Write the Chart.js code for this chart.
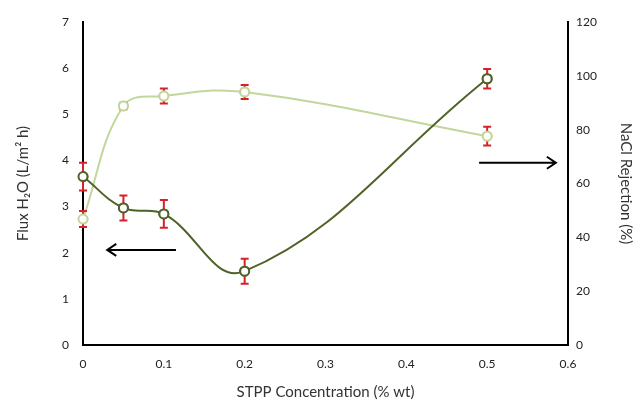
<!DOCTYPE html>
<html>
<head>
<meta charset="utf-8">
<script src="https://cdn.jsdelivr.net/npm/chart.js@4"></script>
<style>
  html, body { margin: 0; padding: 0; background: #fff; }
  #wrap { width: 639px; height: 401px; }
</style>
</head>
<body>
<div id="wrap"><canvas id="grafico"></canvas></div>
<script>
// datos
const concentracion = [0, 0.05, 0.1, 0.2, 0.5]
const flux = [3.65, 2.97, 2.84, 1.6, 5.77]
const fluxError = [0.3, 0.27, 0.3, 0.27, 0.21]
const rechazo = [46.8, 88.8, 92.5, 94, 77.6]
const rechazoError = [3, 1.2, 2.8, 2.6, 3.5]
const ticksX = [0, 0.1, 0.2, 0.3, 0.4, 0.5, 0.6]

// flechas: [x inicio, x fin, y] en unidades de datos (eje izquierdo)
const flechaIzq = [0.115, 0.03, 2.06]
const flechaDer = [0.49, 0.585, 3.95]

const verdeOscuro = '#4f6228'
const verdeClaro = '#c3d69b'
const rojo = '#d2232a'

const puntos = (xs, ys) => xs.map((x, i) => ({ x: x, y: ys[i] }))

const barrasError = {
    id: 'barrasError',
    afterDatasetsDraw(chart) {
        const ctx = chart.ctx
        const sx = chart.scales.x
        const series = [
            { ys: flux, err: fluxError, eje: chart.scales.y },
            { ys: rechazo, err: rechazoError, eje: chart.scales.y2 }
        ]
        ctx.save()
        ctx.strokeStyle = rojo
        ctx.lineWidth = 2
        series.forEach(s => {
            concentracion.forEach((c, i) => {
                const px = sx.getPixelForValue(c)
                const top = s.eje.getPixelForValue(s.ys[i] + s.err[i])
                const bot = s.eje.getPixelForValue(s.ys[i] - s.err[i])
                ctx.beginPath()
                ctx.moveTo(px, top); ctx.lineTo(px, bot)
                ctx.moveTo(px - 4, top); ctx.lineTo(px + 4, top)
                ctx.moveTo(px - 4, bot); ctx.lineTo(px + 4, bot)
                ctx.stroke()
            })
        })
        // volver a dibujar los marcadores encima
        chart.getSortedVisibleDatasetMetas().forEach(meta => {
            meta.data.forEach(p => p.draw(ctx, chart.chartArea))
        })
        // flechas
        ctx.strokeStyle = '#000'
        ctx.lineWidth = 2
        ;[flechaIzq, flechaDer].forEach(f => {
            const x1 = sx.getPixelForValue(f[0])
            const x2 = sx.getPixelForValue(f[1])
            const y = chart.scales.y.getPixelForValue(f[2])
            const d = x2 > x1 ? 1 : -1
            ctx.beginPath()
            ctx.moveTo(x1, y); ctx.lineTo(x2, y)
            ctx.moveTo(x2 - d * 9, y - 6); ctx.lineTo(x2, y); ctx.lineTo(x2 - d * 9, y + 6)
            ctx.stroke()
        })
        ctx.restore()
    }
}

const fuente = { family: 'Lato', size: 12 }

new Chart(document.getElementById('grafico'), {
    type: 'scatter',
    data: {
        datasets: [
            {
                label: 'Flux',
                data: puntos(concentracion, flux),
                yAxisID: 'y',
                showLine: true,
                tension: 0.4,
                borderColor: verdeOscuro,
                borderWidth: 2,
                pointRadius: 4.5,
                pointBorderWidth: 2,
                pointBackgroundColor: '#fff',
                pointBorderColor: verdeOscuro
            },
            {
                label: 'Rejection',
                data: puntos(concentracion, rechazo),
                yAxisID: 'y2',
                showLine: true,
                tension: 0.4,
                borderColor: verdeClaro,
                borderWidth: 2,
                pointRadius: 4.5,
                pointBorderWidth: 2,
                pointBackgroundColor: '#fff',
                pointBorderColor: verdeClaro
            }
        ]
    },
    options: {
        responsive: true,
        maintainAspectRatio: false,
        animation: false,
        layout: { padding: { top: 22 } },
        plugins: { legend: { display: false }, tooltip: { enabled: false } },
        scales: {
            x: {
                type: 'linear',
                min: 0, max: 0.6,
                afterBuildTicks: s => { s.ticks = ticksX.map(v => ({ value: v })) },
                afterFit: s => { s.height = 56 },
                grid: { display: false, drawTicks: false },
                border: { color: '#000', width: 2 },
                ticks: { color: '#222', font: fuente, padding: 12 },
                title: { display: true, text: 'STPP Concentration (% wt)', color: '#333', font: { family: 'Lato', size: 15 }, padding: { top: 6, bottom: 0 } }
            },
            y: {
                position: 'left',
                min: 0, max: 7,
                afterFit: s => { s.width = 83 },
                grid: { display: false, drawTicks: false },
                border: { color: '#000', width: 2 },
                ticks: { stepSize: 1, color: '#222', font: fuente, padding: 14 },
                title: { display: true, text: 'Flux H\u2082O (L/m\u00b2 h)', color: '#333', font: { family: 'Lato', size: 15 }, padding: { top: 14, bottom: 0 } }
            },
            y2: {
                position: 'right',
                min: 0, max: 120,
                afterFit: s => { s.width = 71 },
                grid: { display: false, drawOnChartArea: false, tickLength: 4, color: '#000' },
                border: { color: '#000', width: 2 },
                ticks: { stepSize: 20, color: '#222', font: fuente, padding: 4 },
                title: { display: true, text: 'NaCl Rejection (%)', color: '#333', font: { family: 'Lato', size: 15 } }
            }
        }
    },
    plugins: [barrasError]
})
</script>
</body>
</html>
